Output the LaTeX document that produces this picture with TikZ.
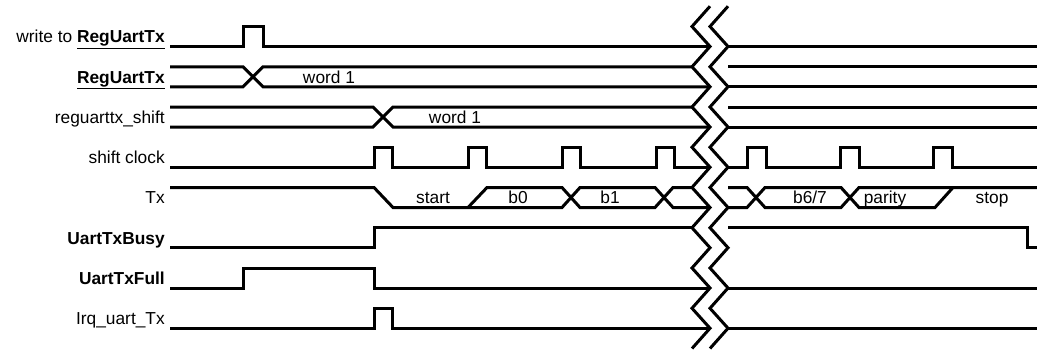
\documentclass[tikz,border=0pt]{standalone}
\usepackage{fontspec}
\setmainfont{Liberation Sans}
\usepackage{tikz}

\begin{document}
\begin{tikzpicture}[x=0.75pt,y=-0.75pt,
    sig/.style={line width=2.25pt,line join=miter},
    siglabel/.style={anchor=east,inner sep=0pt,text height=9.4pt,text depth=0pt,font=\fontsize{13}{15}\selectfont},
    buslabel/.style={inner sep=0pt,text height=9.4pt,text depth=0pt,font=\fontsize{13}{15}\selectfont}]

    \useasboundingbox (0,0) rectangle (1037,350);

    % Signal names
    \node[siglabel] (lwrite) at (165,36.5) {write to \underline{\textbf{RegUartTx}}};
    \node[siglabel] (lreg) at (165,76.75) {\underline{\textbf{RegUartTx}}};
    \node[siglabel] (lshift) at (165,117) {reguarttx\_shift};
    \node[siglabel] (lclk) at (165,157.25) {shift clock};
    \node[siglabel] (ltx) at (165,197.5) {Tx};
    \node[siglabel] (lbusy) at (165,237.75) {\textbf{UartTxBusy}};
    \node[siglabel] (lfull) at (165,278) {\textbf{UartTxFull}};
    \node[siglabel] (lirq) at (165,318.25) {Irq\_uart\_Tx};

    % write to RegUartTx
    \draw[sig] (170,46.5) -- (243,46.5) -- (243,26.5) -- (263,26.5) -- (263,46.5) -- (710,46.5);
    \draw[sig] (728,46.5) -- (1037,46.5);

    % RegUartTx
    \draw[sig] (170,66.75) -- (243,66.75) -- (263,86.75) -- (710,86.75);
    \draw[sig] (170,86.75) -- (243,86.75) -- (263,66.75) -- (692,66.75);
    \draw[sig] (728,66.75) -- (1037,66.75);
    \draw[sig] (728,86.75) -- (1037,86.75);
    \node[buslabel] (wordA) at (329,76.75) {word 1};

    % reguarttx_shift
    \draw[sig] (170,107) -- (373,107) -- (393,127) -- (710,127);
    \draw[sig] (170,127) -- (373,127) -- (393,107) -- (692,107);
    \draw[sig] (728,107) -- (1037,107);
    \draw[sig] (728,127) -- (1037,127);
    \node[buslabel] (wordB) at (455,117) {word 1};

    % shift clock
    \draw[sig] (170,167.25)
        \foreach \x in {374,468,562,656} {-- (\x,167.25) -- (\x,147.25) -- (\x+18,147.25) -- (\x+18,167.25)}
        -- (710,167.25);
    \draw[sig] (728,167.25)
        \foreach \x in {747,840,933} {-- (\x,167.25) -- (\x,147.25) -- (\x+19,147.25) -- (\x+19,167.25)}
        -- (1037,167.25);

    % Tx
    \draw[sig] (170,187.5) -- (374,187.5) -- (393,207.5) -- (562,207.5) -- (580,187.5)
        -- (655,187.5) -- (673,207.5) -- (710,207.5);
    \draw[sig] (468,207.5) -- (487,187.5) -- (562,187.5) -- (580,207.5) -- (655,207.5)
        -- (673,187.5) -- (692,187.5);
    \draw[sig] (728,187.5) -- (747,187.5) -- (765,207.5) -- (841,207.5) -- (859,187.5) -- (1037,187.5);
    \draw[sig] (728,207.5) -- (747,207.5) -- (765,187.5) -- (841,187.5) -- (859,207.5)
        -- (935,207.5) -- (953,187.5);
    \node[buslabel] (start) at (433,197.5) {start};
    \node[buslabel] (bzero) at (518,197.5) {b0};
    \node[buslabel] (bone) at (610,197.5) {b1};
    \node[buslabel] (bsix) at (810,197.5) {b6/7};
    \node[buslabel] (parity) at (885,197.5) {parity};
    \node[buslabel] (stop) at (992,197.5) {stop};

    % UartTxBusy
    \draw[sig] (170,247.75) -- (374,247.75) -- (374,227.75) -- (692,227.75);
    \draw[sig] (728,227.75) -- (1027,227.75) -- (1027,247.75) -- (1037,247.75);

    % UartTxFull
    \draw[sig] (170,288) -- (243,288) -- (243,268) -- (374,268) -- (374,288) -- (710,288);
    \draw[sig] (728,288) -- (1037,288);

    % Irq_uart_Tx
    \draw[sig] (170,328.25) -- (374,328.25) -- (374,308.25) -- (392,308.25) -- (392,328.25) -- (710,328.25);
    \draw[sig] (728,328.25) -- (1037,328.25);

    % Break marks
    \foreach \dx in {0,18} {
        \begin{scope}[shift={(\dx,0)}]
            \draw[sig] (710,6.25) -- (692,26.5) -- (710,46.5) -- (692,66.75) -- (710,86.75)
                -- (692,107) -- (710,127) -- (692,147.25) -- (710,167.25) -- (692,187.5)
                -- (710,207.5) -- (692,227.75) -- (710,247.75) -- (692,268) -- (710,288)
                -- (692,308.25) -- (710,328.25) -- (692,348.5);
        \end{scope}
    }
\end{tikzpicture}
\end{document}
